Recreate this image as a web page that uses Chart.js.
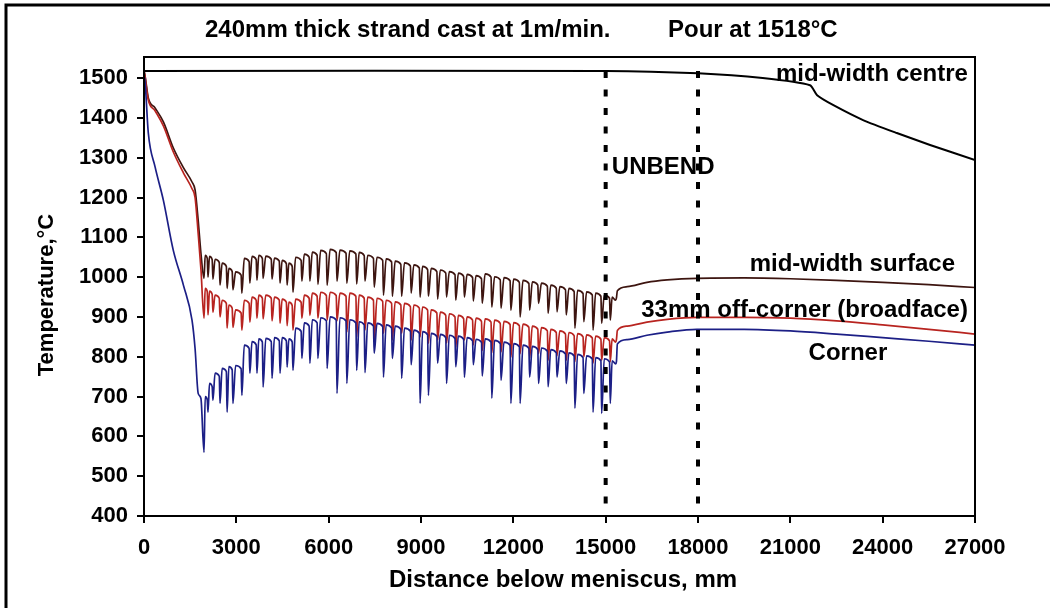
<!DOCTYPE html>
<html>
<head>
<meta charset="utf-8">
<script src="https://cdn.jsdelivr.net/npm/chart.js@4.4.1/dist/chart.umd.min.js"></script>
<style>
  body { margin: 0; background: #fff; }
  canvas { display: block; }
</style>
</head>
<body>
<canvas id="chart" width="1050" height="608"></canvas>
<script>
// Distances along the strand (mm)
const headX = [0, 30, 140, 360, 630, 950, 1280, 1560, 1660, 1760, 1850];
const rollX = [1950, 2080, 2240, 2470, 2700, 2890, 3180,
  3440, 3670, 3870, 4160, 4420, 4650, 4840,
  5130, 5390, 5650, 5950, 6270, 6590, 6910, 7180, 7480, 7780,
  8070, 8370, 8680, 8970, 9240, 9540, 9830, 10130, 10410, 10700,
  10990, 11300, 11600, 11920, 12220, 12530, 12820, 13130, 13420, 13720,
  14000, 14290, 14590, 14870, 15150];
const tailX = [15350, 15380, 15700, 16340, 17000, 17960, 19500, 21000, 22500, 24000, 25500, 27000];

// mid-width centre
const centreX = [0, 15000, 18000, 20100, 21640, 21870, 22400, 23380, 24460, 25540, 27000];
const centreT = [1518, 1518, 1512, 1500, 1482, 1457, 1432, 1394, 1362, 1332, 1294];

// mid-width surface
const surfaceHead = [1518, 1508, 1450, 1425, 1390, 1325, 1275, 1239, 1219, 1143, 1060];
const surfaceTop = [1055, 1052, 1045, 1035, 1022, 1013, 1047,
  1052, 1055, 1053, 1048, 1042, 1035, 1050,
  1058, 1063, 1067, 1070, 1068, 1066, 1062, 1055, 1050, 1046,
  1040, 1036, 1031, 1027, 1022, 1018, 1014, 1010, 1007, 1004,
  1008, 1001, 999, 995, 992, 988, 985, 980, 976, 972,
  967, 963, 960, 955, 950];
const surfaceLow = [997, 1000, 995, 980, 972, 968, 960,
  985, 992, 997, 995, 985, 980, 962,
  990, 990, 982, 980, 990, 985, 983, 990, 975, 955,
  952, 952, 960, 950, 952, 945, 950, 942, 950, 940,
  934, 925, 922, 917, 900, 917, 934, 909, 913, 905,
  872, 888, 867, 884, 892];
const surfaceTail = [948, 966, 976, 987, 993, 997, 998, 996, 992, 987, 981, 974];

// 33mm off-corner (broadface)
const offHead = [1518, 1505, 1445, 1418, 1380, 1315, 1262, 1222, 1200, 1110, 1020];
const offTop = [972, 965, 955, 942, 930, 918, 942,
  950, 955, 955, 950, 945, 937, 945,
  955, 960, 962, 962, 960, 960, 955, 950, 947, 942,
  938, 934, 930, 925, 918, 912, 908, 904, 900, 897,
  895, 892, 889, 886, 882, 877, 873, 869, 865, 861,
  858, 855, 852, 848, 845];
const offLow = [897, 905, 912, 900, 872, 874, 867,
  887, 897, 895, 890, 884, 878, 867,
  897, 904, 897, 892, 890, 862, 850, 867, 842, 859,
  842, 859, 842, 850, 834, 842, 834, 824, 842, 830,
  816, 810, 812, 799, 808, 797, 808, 791, 803, 791,
  788, 800, 784, 791, 788];
const offTail = [843, 866, 877, 887, 894, 899, 899, 897, 890, 880, 869, 857];

// Corner
const cornerHead = [1505, 1495, 1362, 1277, 1193, 1068, 980, 892, 820, 708, 695];
const cornerTop = [700, 733, 759, 771, 775, 778, 829,
  838, 845, 846, 848, 848, 845, 872,
  885, 893, 898, 900, 898, 893, 888, 885, 884, 880,
  877, 872, 867, 863, 859, 856, 854, 852, 848, 844,
  845, 841, 837, 833, 829, 826, 822, 818, 815, 810,
  806, 802, 798, 795, 790];
const cornerLow = [560, 661, 691, 683, 661, 683, 703,
  759, 759, 724, 746, 759, 774, 766,
  796, 784, 796, 771, 708, 733, 766, 760, 809, 749,
  796, 746, 780, 683, 703, 784, 733, 775, 749, 780,
  752, 696, 741, 683, 683, 749, 733, 725, 749, 733,
  671, 708, 661, 658, 683];
const cornerTail = [788, 832, 843, 854, 862, 869, 869, 865, 857, 848, 839, 829];

// Unbend markers
const unbendX = [15000, 18000];
const unbendRange = [1518, 400];

const xTicks = [0, 3000, 6000, 9000, 12000, 15000, 18000, 21000, 24000, 27000];
const yTicks = [400, 500, 600, 700, 800, 900, 1000, 1100, 1200, 1300, 1400, 1500];

const noteText = ['mid-width centre', 'UNBEND', 'mid-width surface', '33mm off-corner (broadface)', 'Corner'];
const noteX = [26770, 15200, 26350, 26770, 22870];
const noteY = [1510, 1276, 1033, 917, 809];
const noteAlign = ['right', 'left', 'right', 'right', 'center'];

const titleLeft = '240mm thick strand cast at 1m/min.';
const titleRight = 'Pour at 1518°C';
const xTitle = 'Distance below meniscus, mm';
const yTitle = 'Temperature,°C';

const FONT = '"Liberation Sans", Arial, sans-serif';
const archSag = 8;

// each roll: sharp dip at contact, quick reheat to the crest, slow fall to the next roll
function buildSeries(head, tops, lows, tail) {
  const pts = headX.map((x, i) => ({ x: x, y: head[i] }));
  rollX.forEach((x, i) => {
    const next = i < rollX.length - 1 ? rollX[i + 1] : tailX[0];
    pts.push({ x: x, y: lows[i] });
    pts.push({ x: x + (next - x) * 0.3, y: tops[i] });
    pts.push({ x: next - 25, y: tops[i] - archSag });
  });
  tailX.forEach((x, i) => pts.push({ x: x, y: tail[i] }));
  return pts;
}

const lineStyle = {
  pointRadius: 0,
  borderWidth: 1.7,
  fill: false,
  cubicInterpolationMode: 'monotone'
};

const datasets = [
  {
    data: centreX.map((x, i) => ({ x: x, y: centreT[i] })),
    borderColor: '#000', borderWidth: 2, pointRadius: 0, tension: 0.2, order: 4
  },
  Object.assign({ data: buildSeries(surfaceHead, surfaceTop, surfaceLow, surfaceTail), borderColor: '#3d1510', order: 3 }, lineStyle),
  Object.assign({ data: buildSeries(offHead, offTop, offLow, offTail), borderColor: '#b82420', order: 2 }, lineStyle),
  Object.assign({ data: buildSeries(cornerHead, cornerTop, cornerLow, cornerTail), borderColor: '#1c1f86', order: 1 }, lineStyle)
];
unbendX.forEach(x => {
  datasets.push({
    data: unbendRange.map(t => ({ x: x, y: t })),
    borderColor: '#000', borderWidth: 4, borderDash: [7, 11.5], pointRadius: 0, order: 0
  });
});

const decor = {
  id: 'decor',
  afterDraw(chart) {
    const { ctx, chartArea: a, scales } = chart;
    ctx.save();
    ctx.strokeStyle = '#000';
    ctx.lineWidth = 2;
    ctx.strokeRect(a.left, a.top, a.right - a.left, a.bottom - a.top);

    // outer picture frame
    ctx.lineWidth = 3;
    ctx.beginPath();
    ctx.moveTo(6, 608);
    ctx.lineTo(6, 5);
    ctx.lineTo(1050, 5);
    ctx.stroke();

    ctx.fillStyle = '#000';
    ctx.font = 'bold 24px ' + FONT;
    ctx.textBaseline = 'middle';
    ctx.textAlign = 'left';
    ctx.fillText(titleLeft, 205, 30);
    ctx.fillText(titleRight, 668, 30);

    ctx.textAlign = 'center';
    ctx.fillText(xTitle, 563, 580);

    ctx.font = 'bold 22px ' + FONT;
    ctx.save();
    ctx.translate(47, 295);
    ctx.rotate(-Math.PI / 2);
    ctx.fillText(yTitle, 0, 0);
    ctx.restore();

    ctx.font = 'bold 24px ' + FONT;
    noteText.forEach((t, i) => {
      ctx.textAlign = noteAlign[i];
      ctx.fillText(t, scales.x.getPixelForValue(noteX[i]), scales.y.getPixelForValue(noteY[i]));
    });
    ctx.restore();
  }
};

const tickFont = { family: FONT, size: 22, weight: 'bold' };

new Chart(document.getElementById('chart'), {
  type: 'line',
  data: { datasets: datasets },
  plugins: [decor],
  options: {
    responsive: false,
    animation: false,
    devicePixelRatio: 1,
    layout: { padding: { top: 57, right: 75, left: 0, bottom: 0 } },
    plugins: { legend: { display: false }, tooltip: { enabled: false } },
    scales: {
      x: {
        type: 'linear',
        min: 0,
        max: 27000,
        afterFit: s => { s.height = 92; },
        afterBuildTicks: s => { s.ticks = xTicks.map(v => ({ value: v })); },
        ticks: { autoSkip: false, maxRotation: 0, font: tickFont, color: '#000', padding: 12, callback: v => String(v) },
        grid: { drawOnChartArea: false, drawTicks: true, tickLength: 7, color: '#000', lineWidth: 2 },
        border: { color: '#000', width: 2 }
      },
      y: {
        type: 'linear',
        min: 400,
        max: 1553,
        afterFit: s => { s.width = 144; },
        afterBuildTicks: s => { s.ticks = yTicks.map(v => ({ value: v })); },
        ticks: { autoSkip: false, font: tickFont, color: '#000', padding: 9, callback: v => String(v) },
        grid: { drawOnChartArea: false, drawTicks: true, tickLength: 7, color: '#000', lineWidth: 2 },
        border: { color: '#000', width: 2 }
      }
    }
  }
});
</script>
</body>
</html>
